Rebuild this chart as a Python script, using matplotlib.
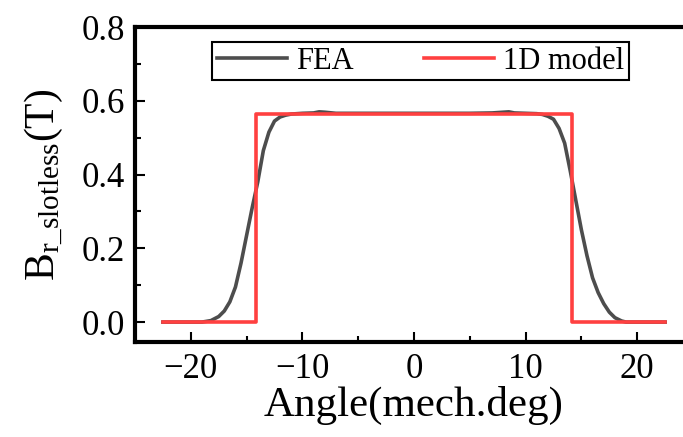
import matplotlib
matplotlib.use("Agg")
import matplotlib.pyplot as plt
from matplotlib.ticker import MultipleLocator

plt.rcParams['font.family'] = ['Liberation Serif', 'DejaVu Serif']
plt.rcParams['mathtext.fontset'] = 'custom'
plt.rcParams['mathtext.rm'] = 'Liberation Serif'
plt.rcParams['mathtext.it'] = 'Liberation Serif:italic'

# FEA curve
fea_angle = [-22.5, -19.0, -18.2, -17.5, -17.0, -16.5, -16.0, -15.5, -15.0, -14.5,
             -14.0, -13.5, -13.0, -12.5, -12.0, -11.5, -11.0, -10.0, -9.0, -8.5,
             -8.0, -7.0, -5.0, -2.0, 0.0, 2.0, 5.0, 7.0, 8.0, 8.5, 9.0, 10.0,
             11.0, 11.5, 12.0, 12.5, 13.0, 13.5, 14.0, 14.5, 15.0, 15.5, 16.0,
             16.5, 17.0, 17.5, 18.0, 18.6, 19.0, 22.5]
fea_b = [0.0, 0.0, 0.004, 0.015, 0.03, 0.055, 0.095, 0.16, 0.235, 0.31,
         0.38, 0.465, 0.515, 0.545, 0.556, 0.561, 0.564, 0.566, 0.567, 0.570,
         0.569, 0.566, 0.566, 0.566, 0.566, 0.566, 0.566, 0.567, 0.569, 0.570,
         0.567, 0.566, 0.565, 0.563, 0.558, 0.550, 0.525, 0.485, 0.41, 0.33,
         0.25, 0.18, 0.12, 0.08, 0.05, 0.027, 0.012, 0.003, 0.0, 0.0]

# 1D model (step)
model_angle = [-22.5, -14.2, -14.2, 14.2, 14.2, 22.5]
model_b = [0.0, 0.0, 0.564, 0.564, 0.0, 0.0]

xticks = [-20, -10, 0, 10, 20]
yticks = [0.0, 0.2, 0.4, 0.6, 0.8]
ytick_labels = ['0.0', '0.2', '0.4', '0.6', '0.8']

fig = plt.figure(figsize=(6.83, 4.37), dpi=100)
ax = fig.add_axes([135/683, 1-342/437, (693-135)/683, (342-27)/437])

ax.plot(fea_angle, fea_b, color='#4d4d4d', lw=2.6, label='FEA')
ax.plot(model_angle, model_b, color='#ff4040', lw=2.6, label='1D model')

ax.set_xlim(-25, 25)
ax.set_ylim(-0.054, 0.8)
ax.set_xticks(xticks)
ax.set_yticks(yticks)
ax.set_yticklabels(ytick_labels)
ax.xaxis.set_minor_locator(MultipleLocator(5))
ax.yaxis.set_minor_locator(MultipleLocator(0.1))
ax.tick_params(which='both', direction='in', width=1.5, labelsize=25, top=False, right=False)
ax.tick_params(which='major', length=7)
ax.tick_params(which='minor', length=4)
ax.tick_params(axis='y', pad=7)
ax.tick_params(axis='x', pad=8)
for s in ax.spines.values():
    s.set_linewidth(3)

ax.set_xlabel('Angle(mech.deg)', fontsize=31, labelpad=0)
ax.set_ylabel(r'B$_{\mathrm{r\_slotless}}$(T)', fontsize=30, labelpad=12)

leg = ax.legend(loc='center', bbox_to_anchor=(0.5117, 0.892), ncol=2, fontsize=22,
                frameon=True, fancybox=False, edgecolor='black', framealpha=1,
                handlelength=2.3, handletextpad=0.3, columnspacing=2.3,
                borderpad=0.15, borderaxespad=0)
leg.get_frame().set_linewidth(1.5)

fig.savefig('out.png', dpi=100)
